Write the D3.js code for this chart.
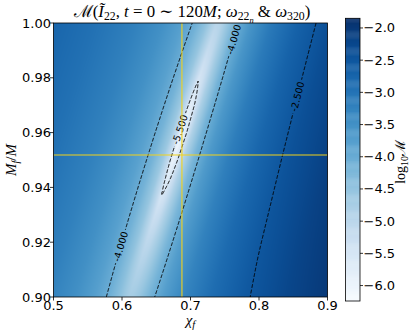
<!DOCTYPE html>
<html>
<head>
<meta charset="utf-8">
<script src="https://cdn.jsdelivr.net/npm/d3@7"></script>
<style>
  html,body{margin:0;padding:0;background:#fff;}
  svg{display:block;}
</style>
</head>
<body>
<svg id="chart" width="415" height="333"></svg>
<script>
// ---------------- data ----------------
// rows of final mass M_f/M
const massRows = [0.90,0.91,0.92,0.93,0.94,0.95,0.96,0.97,0.98,0.99,1.00];
// chi_f of the valley floor in each row
const ridgeChi = [0.6100,0.6228,0.6356,0.6484,0.6612,0.6740,0.6868,0.6996,0.7124,0.7252,0.7380];
// chi_f offsets from the valley floor at which log10 M is tabulated
const chiOffsets = [-0.24,-0.18,-0.12,-0.08,-0.05,-0.03,-0.015,-0.006,0,0.006,0.015,0.03,0.05,0.08,0.12,0.17,0.23,0.30];
// log10 mismatch per row (rows = massRows, columns = chiOffsets)
const log10Mismatch = [
  [-2.742,-2.932,-3.198,-3.460,-3.752,-4.042,-4.358,-4.598,-4.713,-4.689,-4.538,-4.164,-3.739,-3.291,-2.887,-2.536,-2.229,-1.958],
  [-2.743,-2.934,-3.202,-3.467,-3.766,-4.071,-4.422,-4.712,-4.870,-4.833,-4.625,-4.182,-3.728,-3.270,-2.863,-2.510,-2.202,-1.931],
  [-2.744,-2.936,-3.206,-3.473,-3.778,-4.096,-4.479,-4.835,-5.060,-5.001,-4.708,-4.193,-3.715,-3.249,-2.839,-2.485,-2.177,-1.906],
  [-2.745,-2.937,-3.208,-3.478,-3.788,-4.116,-4.530,-4.959,-5.296,-5.195,-4.782,-4.198,-3.702,-3.229,-2.818,-2.463,-2.155,-1.884],
  [-2.745,-2.938,-3.210,-3.482,-3.795,-4.131,-4.570,-5.074,-5.600,-5.410,-4.836,-4.194,-3.684,-3.208,-2.796,-2.441,-2.133,-1.861],
  [-2.746,-2.938,-3.211,-3.484,-3.799,-4.139,-4.594,-5.157,-5.973,-5.596,-4.862,-4.183,-3.666,-3.188,-2.775,-2.419,-2.111,-1.840],
  [-2.746,-2.939,-3.212,-3.485,-3.801,-4.142,-4.599,-5.179,-6.135,-5.643,-4.852,-4.164,-3.647,-3.168,-2.754,-2.399,-2.090,-1.819],
  [-2.746,-2.938,-3.211,-3.484,-3.798,-4.137,-4.586,-5.131,-5.821,-5.505,-4.812,-4.140,-3.625,-3.147,-2.734,-2.379,-2.070,-1.799],
  [-2.746,-2.938,-3.210,-3.481,-3.793,-4.126,-4.555,-5.034,-5.469,-5.294,-4.747,-4.113,-3.604,-3.129,-2.716,-2.361,-2.053,-1.781],
  [-2.745,-2.937,-3.208,-3.477,-3.784,-4.109,-4.512,-4.910,-5.194,-5.089,-4.667,-4.078,-3.581,-3.108,-2.697,-2.343,-2.035,-1.763],
  [-2.744,-2.936,-3.205,-3.471,-3.773,-4.086,-4.455,-4.786,-4.979,-4.909,-4.581,-4.043,-3.558,-3.089,-2.679,-2.325,-2.017,-1.746]
];
const contourLevels = [-5.5, -4.0, -2.5];
const labelLevels = [-5.5, -4.0, -4.0, -2.5];
const labelChi    = [0.6861, 0.7679, 0.6015, 0.8628];
const labelMf     = [0.9609, 0.9938, 0.9182, 0.9726];
const trueChi = 0.6875, trueMf = 0.9518;
const xTicks = [0.5, 0.6, 0.7, 0.8, 0.9];
const yTicks = [0.90, 0.92, 0.94, 0.96, 0.98, 1.00];
const cbarTicks = [-2.0, -2.5, -3.0, -3.5, -4.0, -4.5, -5.0, -5.5, -6.0];
const colorRange = [-6.24, -1.85];

// ---------------- layout ----------------
const W = 415, H = 333;
const x = d3.scaleLinear().domain([0.5, 0.9]).range([53.5, 327.5]);
const y = d3.scaleLinear().domain([0.90, 1.00]).range([297, 23]);
const color = d3.scaleSequential(d3.interpolateBlues).domain(colorRange);
const cbX0 = 345.5, cbX1 = 360, cbTop = 18.3, cbBot = 301;
const yc = d3.scaleLinear().domain(colorRange).range([cbBot, cbTop]);
const SANS = "'DejaVu Sans', sans-serif";
const SERIF = "'Liberation Serif', 'DejaVu Serif', serif";

const svg = d3.select("#chart");

// ---------------- field lookup ----------------
function rowProfile(r, u) {
  const vals = log10Mismatch[r], n = chiOffsets.length;
  if (u <= chiOffsets[0]) return vals[0];
  if (u >= chiOffsets[n - 1]) return vals[n - 1];
  const k = d3.bisectRight(chiOffsets, u) - 1;
  const t = (u - chiOffsets[k]) / (chiOffsets[k + 1] - chiOffsets[k]);
  return vals[k] + (vals[k + 1] - vals[k]) * t;
}
function field(chi, mf) {
  const nR = massRows.length;
  let f = (mf - massRows[0]) / (massRows[nR - 1] - massRows[0]) * (nR - 1);
  f = Math.max(0, Math.min(nR - 1 - 1e-9, f));
  const r = Math.floor(f), t = f - r;
  const c = ridgeChi[r] + (ridgeChi[r + 1] - ridgeChi[r]) * t;
  const u = chi - c;
  return rowProfile(r, u) * (1 - t) + rowProfile(r + 1, u) * t;
}

// ---------------- heatmap image ----------------
const px0 = x.range()[0], py0 = y.range()[1];
const pw = Math.round(x.range()[1] - px0), ph = Math.round(y.range()[0] - py0);
const grid = new Array(pw * ph);
const canvas = document.createElement("canvas");
canvas.width = pw; canvas.height = ph;
const ctx = canvas.getContext("2d");
const img = ctx.createImageData(pw, ph);
for (let j = 0; j < ph; j++) {
  const mf = y.invert(py0 + j + 0.5);
  for (let i = 0; i < pw; i++) {
    const chi = x.invert(px0 + i + 0.5);
    const v = field(chi, mf);
    grid[j * pw + i] = v;
    const c = d3.rgb(color(v));
    const o = 4 * (j * pw + i);
    img.data[o] = c.r; img.data[o + 1] = c.g; img.data[o + 2] = c.b; img.data[o + 3] = 255;
  }
}
ctx.putImageData(img, 0, 0);
svg.append("image").attr("x", px0).attr("y", py0).attr("width", pw).attr("height", ph)
  .attr("preserveAspectRatio", "none").attr("href", canvas.toDataURL());

// ---------------- contours ----------------
const contours = d3.contours().size([pw, ph]).thresholds(contourLevels)(grid);
const eps = 1e-9;
const onB = p => p[0] <= eps || p[0] >= pw - eps || p[1] <= eps || p[1] >= ph - eps;
function ringToLines(ring) {
  const n = ring.length - 1;
  let start = -1;
  for (let k = 0; k < n; k++) if (onB(ring[k]) && onB(ring[k + 1])) { start = k + 1; break; }
  if (start < 0) return [ring.slice()];
  const lines = []; let cur = [];
  for (let s = 0; s < n; s++) {
    const k = (start + s) % n, a = ring[k], b = ring[(k + 1) % n];
    if (onB(a) && onB(b)) { if (cur.length > 1) lines.push(cur); cur = []; }
    else { if (cur.length === 0) cur.push(a); cur.push(b); }
  }
  if (cur.length > 1) lines.push(cur);
  return lines;
}
const levelLines = {};
contours.forEach(c => {
  const lines = [];
  c.coordinates.forEach(poly => poly.forEach(ring => {
    ringToLines(ring).forEach(l => lines.push(l.map(p => [px0 + p[0], py0 + p[1]])));
  }));
  levelLines[c.value] = lines;
});

const defs = svg.append("defs");
const mask = defs.append("mask").attr("id", "lblgap").attr("maskUnits", "userSpaceOnUse")
  .attr("x", 0).attr("y", 0).attr("width", W).attr("height", H);
mask.append("rect").attr("x", 0).attr("y", 0).attr("width", W).attr("height", H).attr("fill", "white");
defs.append("clipPath").attr("id", "plotclip").append("rect")
  .attr("x", px0).attr("y", py0).attr("width", pw).attr("height", ph);

const lineGen = d3.line();
const cg = svg.append("g").attr("mask", "url(#lblgap)").attr("clip-path", "url(#plotclip)");
contourLevels.forEach(lv => {
  (levelLines[lv] || []).forEach(pts => {
    cg.append("path").attr("d", lineGen(pts)).attr("fill", "none")
      .attr("stroke", "#000").attr("stroke-width", 1).attr("stroke-dasharray", "3.8,1.8");
  });
});

// contour labels
const lg = svg.append("g");
labelLevels.forEach((lv, li) => {
  const tx = x(labelChi[li]), ty = y(labelMf[li]);
  let best = null, bd = Infinity;
  (levelLines[lv] || []).forEach(pts => pts.forEach((p, k) => {
    const d = (p[0] - tx) ** 2 + (p[1] - ty) ** 2;
    if (d < bd) { bd = d; best = { pts, k }; }
  }));
  if (!best) return;
  const { pts, k } = best;
  const p = pts[k];
  const a = pts[Math.max(0, k - 6)], b = pts[Math.min(pts.length - 1, k + 6)];
  let ang = Math.atan2(b[1] - a[1], b[0] - a[0]) * 180 / Math.PI;
  if (ang > 90) ang -= 180;
  if (ang < -90) ang += 180;
  const tr = `translate(${p[0]},${p[1]}) rotate(${ang})`;
  const t = lg.append("text").attr("transform", tr)
    .attr("text-anchor", "middle").attr("dominant-baseline", "central")
    .attr("font-family", SANS).attr("font-size", 9.5).attr("fill", "#000")
    .text(d3.format(".3f")(lv).replace("\u2212", "-"));
  const len = t.node().getComputedTextLength();
  mask.append("rect").attr("transform", tr).attr("x", -len / 2 - 2).attr("y", -4)
    .attr("width", len + 4).attr("height", 8).attr("fill", "black");
});

// crosshair
svg.append("line").attr("x1", x(trueChi)).attr("x2", x(trueChi)).attr("y1", py0).attr("y2", py0 + ph)
  .attr("stroke", "#f2d21a").attr("stroke-width", 1.1);
svg.append("line").attr("x1", px0).attr("x2", px0 + pw).attr("y1", y(trueMf)).attr("y2", y(trueMf))
  .attr("stroke", "#f2d21a").attr("stroke-width", 1.1);

// frame
svg.append("rect").attr("x", px0).attr("y", py0).attr("width", pw).attr("height", ph)
  .attr("fill", "none").attr("stroke", "#000").attr("stroke-width", 0.8);

// axes ticks
const axg = svg.append("g").attr("font-family", SANS).attr("font-size", 13);
xTicks.forEach(v => {
  axg.append("line").attr("x1", x(v)).attr("x2", x(v)).attr("y1", py0 + ph).attr("y2", py0 + ph + 3.5)
    .attr("stroke", "#000").attr("stroke-width", 0.8);
  axg.append("text").attr("x", x(v)).attr("y", 310).attr("text-anchor", "middle").text(d3.format(".1f")(v));
});
yTicks.forEach(v => {
  axg.append("line").attr("x1", px0 - 3.5).attr("x2", px0).attr("y1", y(v)).attr("y2", y(v))
    .attr("stroke", "#000").attr("stroke-width", 0.8);
  axg.append("text").attr("x", 51).attr("y", y(v)).attr("text-anchor", "end")
    .attr("dominant-baseline", "central").text(d3.format(".2f")(v));
});

// rich text helper (main text, subscripts, sub-subscripts)
function rich(sel, parts, F) {
  const offs = [0, 0.22 * F, 0.36 * F], sizes = [F, 0.7 * F, 0.5 * F];
  let cur = 0;
  parts.forEach(pt => {
    const lvl = pt.s || 0;
    sel.append("tspan").attr("font-size", sizes[lvl]).attr("dy", offs[lvl] - offs[cur])
      .attr("font-style", pt.i ? "italic" : "normal").text(pt.t);
    cur = lvl;
  });
}

// title, sized to span the reference width
const titleParts = [
  { t: "\u2133(" }, { t: "\u0128", i: 1 }, { t: "22", s: 1 }, { t: ", " }, { t: "t", i: 1 },
  { t: " = 0 \u223c 120" }, { t: "M", i: 1 }, { t: "; " }, { t: "\u03c9", i: 1 }, { t: "22", s: 1 },
  { t: "n", i: 1, s: 2 }, { t: " & " }, { t: "\u03c9", i: 1 }, { t: "320", s: 1 }, { t: ")" }
];
let title = svg.append("text").attr("x", 192).attr("y", 16.5).attr("text-anchor", "middle")
  .attr("font-family", SERIF);
rich(title, titleParts, 15);
const tw = title.node().getBBox().width;
title.remove();
title = svg.append("text").attr("x", 192).attr("y", 16.5).attr("text-anchor", "middle")
  .attr("font-family", SERIF);
rich(title, titleParts, Math.min(18, 15 * 238 / tw));

// x label
const xl = svg.append("text").attr("x", 190.5).attr("y", 325).attr("text-anchor", "middle").attr("font-family", SERIF);
rich(xl, [{ t: "\u03c7", i: 1 }, { t: "f", i: 1, s: 1 }], 15);

// y label
const yl = svg.append("text").attr("transform", "translate(16,160) rotate(-90)").attr("text-anchor", "middle").attr("font-family", SERIF);
rich(yl, [{ t: "M", i: 1 }, { t: "f", i: 1, s: 1 }, { t: "/", i: 0 }, { t: "M", i: 1 }], 15);

// ---------------- colorbar ----------------
const cb = svg.append("g");
const steps = 300;
for (let s = 0; s < steps; s++) {
  const v0 = colorRange[0] + (colorRange[1] - colorRange[0]) * s / steps;
  const v1 = colorRange[0] + (colorRange[1] - colorRange[0]) * (s + 1) / steps;
  cb.append("rect").attr("x", cbX0).attr("width", cbX1 - cbX0)
    .attr("y", yc(v1)).attr("height", yc(v0) - yc(v1) + 0.4)
    .attr("fill", color((v0 + v1) / 2));
}
cb.append("rect").attr("x", cbX0).attr("y", cbTop).attr("width", cbX1 - cbX0).attr("height", cbBot - cbTop)
  .attr("fill", "none").attr("stroke", "#000").attr("stroke-width", 0.8);
const fmtCb = d3.format(".1f");
cbarTicks.forEach(v => {
  cb.append("line").attr("x1", cbX1).attr("x2", cbX1 + 3).attr("y1", yc(v)).attr("y2", yc(v))
    .attr("stroke", "#000").attr("stroke-width", 0.8);
  cb.append("text").attr("x", cbX1 + 3.5).attr("y", yc(v)).attr("dominant-baseline", "central")
    .attr("font-family", SANS).attr("font-size", 13).text(fmtCb(v));
});
const cl = svg.append("text").attr("transform", "translate(405,162) rotate(-90)").attr("text-anchor", "middle").attr("font-family", SERIF);
rich(cl, [{ t: "log" }, { t: "10", s: 1 }, { t: "\u2133" }], 14);
</script>
</body>
</html>
